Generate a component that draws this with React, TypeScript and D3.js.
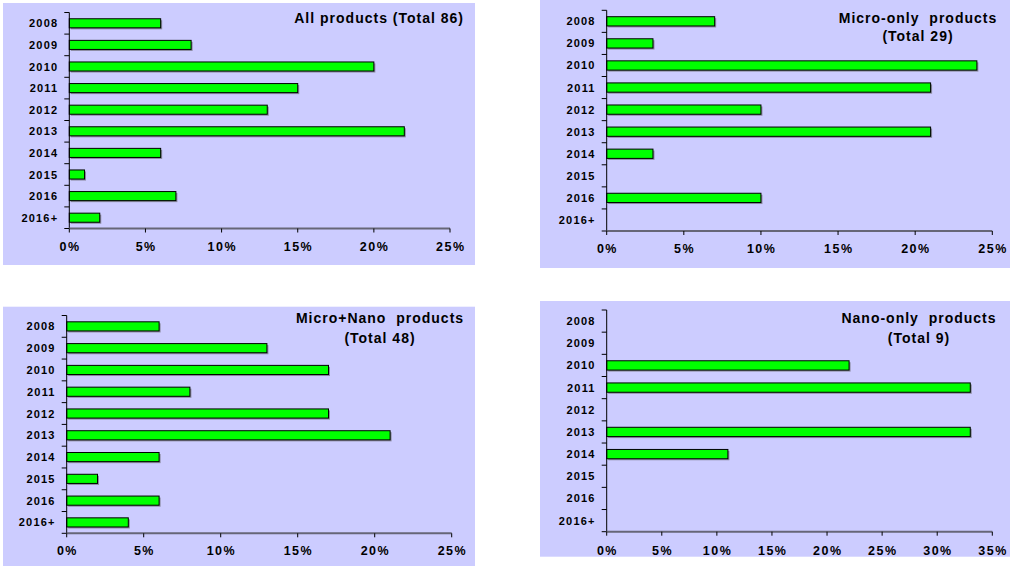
import React from "react";
import * as d3 from "d3";

const categories = ["2008", "2009", "2010", "2011", "2012", "2013", "2014", "2015", "2016", "2016+"];

const allProducts = [6, 8, 20, 15, 13, 22, 6, 1, 7, 2];
const microOnly = [7, 3, 24, 21, 10, 21, 3, 0, 10, 0];
const microNano = [6, 13, 17, 8, 17, 21, 6, 2, 6, 4];
const nanoOnly = [0, 0, 22, 33, 0, 33, 11, 0, 0, 0];

const xTicks25 = [0, 5, 10, 15, 20, 25];
const xTicks35 = [0, 5, 10, 15, 20, 25, 30, 35];

const titleAll = ["All products (Total 86)"];
const titleMicro = ["Micro-only  products", "(Total 29)"];
const titleMicroNano = ["Micro+Nano  products", "(Total 48)"];
const titleNano = ["Nano-only  products", "(Total 9)"];

type PanelProps = {
  bg: [number, number, number, number];
  x0: number;
  x1: number;
  yTop: number;
  yBottom: number;
  values: number[];
  ticks: number[];
  title: string[];
  titleX: number;
  titleY: number[];
  titleAnchor: "end" | "middle";
  xLabelY: number;
};

const FONT = "'Liberation Sans', Arial, sans-serif";

function Panel(p: PanelProps) {
  const max = p.ticks[p.ticks.length - 1];
  const x = d3.scaleLinear().domain([0, max]).range([p.x0, p.x1]);
  const y = d3
    .scaleBand<string>()
    .domain(categories)
    .range([p.yTop, p.yBottom])
    .paddingInner(0.58)
    .paddingOuter(0.29);
  const step = y.step();
  const boundaries = d3.range(categories.length + 1).map((i) => p.yTop + i * step);
  return (
    <g>
      <rect x={p.bg[0]} y={p.bg[1]} width={p.bg[2] - p.bg[0]} height={p.bg[3] - p.bg[1]} fill="#CCCCFF" />
      {categories.map((c, i) =>
        p.values[i] > 0 ? (
          <g key={c}>
            <rect
              x={x(0) + 1.5}
              y={(y(c) as number) + 1.5}
              width={x(p.values[i]) - x(0)}
              height={y.bandwidth()}
              fill="#8a8aa0"
            />
            <rect
              x={x(0)}
              y={y(c) as number}
              width={x(p.values[i]) - x(0)}
              height={y.bandwidth()}
              fill="#00FF00"
              stroke="#000"
              strokeWidth={1}
            />
          </g>
        ) : null
      )}
      {/* y axis */}
      <line x1={p.x0} x2={p.x0} y1={p.yTop} y2={p.yBottom} stroke="#000" strokeWidth={1} />
      {boundaries.map((b, i) => (
        <line key={i} x1={p.x0 - 5} x2={p.x0} y1={b} y2={b} stroke="#000" strokeWidth={1} />
      ))}
      {categories.map((c) => (
        <text
          key={c}
          x={p.x0 - 11}
          y={(y(c) as number) + y.bandwidth() / 2}
          textAnchor="end"
          dominantBaseline="central"
          fontFamily={FONT}
          fontWeight="bold"
          fontSize={11}
          letterSpacing={1.2}
          fill="#000"
        >
          {c}
        </text>
      ))}
      {/* x axis */}
      <line x1={p.x0} x2={p.x1} y1={p.yBottom} y2={p.yBottom} stroke="#666677" strokeWidth={2} />
      {p.ticks.map((t) => (
        <g key={t}>
          <line x1={x(t)} x2={x(t)} y1={p.yBottom} y2={p.yBottom + 4} stroke="#000" strokeWidth={1} />
          <text
            x={x(t) + 0.75}
            y={p.xLabelY}
            textAnchor="middle"
            dominantBaseline="central"
            fontFamily={FONT}
            fontWeight="bold"
            fontSize={12.5}
            letterSpacing={1.5}
            fill="#000"
          >
            {`${t}%`}
          </text>
        </g>
      ))}
      {p.title.map((line, i) => (
        <text
          key={i}
          x={p.titleX}
          y={p.titleY[i]}
          textAnchor={p.titleAnchor}
          dominantBaseline="central"
          fontFamily={FONT}
          fontWeight="bold"
          fontSize={14}
          letterSpacing={1}
          fill="#000"
          style={{ whiteSpace: "pre" }}
        >
          {line}
        </text>
      ))}
    </g>
  );
}

export default function App() {
  return (
    <svg
      width={1011}
      height={566}
      style={{ position: "absolute", left: 0, top: 0, background: "#fff" }}
    >
      <rect x={0} y={0} width={1011} height={566} fill="#fff" />
      <Panel
        bg={[3, 3, 475, 265]}
        x0={69.3}
        x1={450}
        yTop={12.5}
        yBottom={228.5}
        values={allProducts}
        ticks={xTicks25}
        title={titleAll}
        titleX={464}
        titleY={[18]}
        titleAnchor="end"
        xLabelY={247}
      />
      <Panel
        bg={[540, 0, 1010, 268]}
        x0={606.7}
        x1={992.3}
        yTop={10.3}
        yBottom={231}
        values={microOnly}
        ticks={xTicks25}
        title={titleMicro}
        titleX={918}
        titleY={[18, 36]}
        titleAnchor="middle"
        xLabelY={249}
      />
      <Panel
        bg={[3, 306.7, 475, 566]}
        x0={66.7}
        x1={451.7}
        yTop={315.5}
        yBottom={533.3}
        values={microNano}
        ticks={xTicks25}
        title={titleMicroNano}
        titleX={380}
        titleY={[318.3, 338.3]}
        titleAnchor="middle"
        xLabelY={551}
      />
      <Panel
        bg={[540, 301, 1010, 556.7]}
        x0={606.7}
        x1={992.3}
        yTop={310}
        yBottom={531.7}
        values={nanoOnly}
        ticks={xTicks35}
        title={titleNano}
        titleX={919}
        titleY={[317.7, 337.7]}
        titleAnchor="middle"
        xLabelY={551}
      />
    </svg>
  );
}
